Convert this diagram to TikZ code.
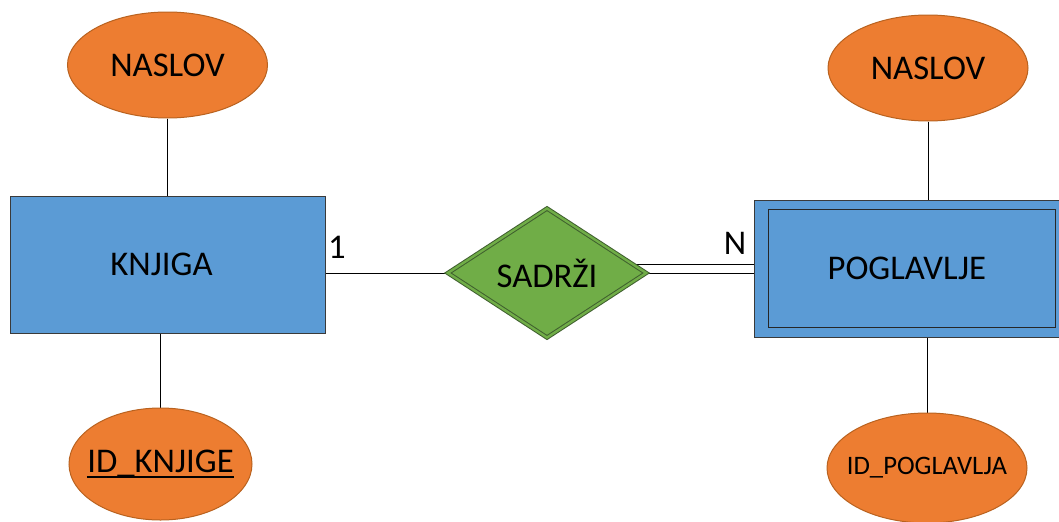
\documentclass[tikz,border=0pt]{standalone}
\usepackage{fontspec}
\setmainfont{Carlito}
\usepackage{tikz}
\usetikzlibrary{shapes.geometric}
\usetikzlibrary{backgrounds}
\definecolor{entblue}{HTML}{5B9BD5}
\definecolor{attrorange}{HTML}{ED7D31}
\definecolor{attrline}{HTML}{B9621F}
\definecolor{relgreen}{HTML}{70AD47}
\definecolor{relline}{HTML}{3F5F2E}
\definecolor{boxline}{HTML}{3A3A3A}

\begin{document}
\begin{tikzpicture}[x=0.75pt, y=-0.75pt, line width=0.75pt,
    txt/.style={font=\fontsize{26}{30}\selectfont},
    attr/.style={ellipse, draw=attrline, fill=attrorange, inner sep=0pt},
    entity/.style={rectangle, draw=boxline, fill=entblue, inner sep=0pt, txt},
    rel/.style={diamond, draw=relline, double=relgreen, double distance=1.8pt, fill=relgreen, inner sep=0pt, txt}]
\path[use as bounding box] (0,0) rectangle (1059,521);
\clip (0,0) rectangle (1059,521);

% entiteti
\node[entity, minimum width=236.25pt, minimum height=102.75pt] (knjiga) at (167.5,264.5) {KNJIGA\hspace*{9pt}};
\node[entity, minimum width=236.25pt, minimum height=102.75pt] (pog) at (911.5,268.5) {};
\node[rectangle, draw=black!85, inner sep=0pt, minimum width=215.25pt, minimum height=88.5pt, txt] (pog-in) at (911.5,268) {POGLAVLJE\hspace*{7pt}};

% veza
\node[rel, minimum width=149pt, minimum height=91.5pt] (dia) at (547,273) {SADRŽI};

% atributi
\node[attr, minimum width=150pt, minimum height=79.5pt, label={[txt]center:NASLOV}] (nasl1) at (167.5,65) {};
\node[attr, minimum width=137.25pt, minimum height=84pt, label={[txt, inner sep=0pt, name=idk-t]center:ID\_KNJIGE}] (idk) at (160.5,464) {};
\node[attr, minimum width=150pt, minimum height=79.5pt, label={[txt]center:NASLOV}] (nasl2) at (928,68) {};
\node[attr, minimum width=150pt, minimum height=82.5pt, label={[font=\fontsize{20}{24}\selectfont]center:ID\_POGLAVLJA}] (idp) at (927,468) {};
\draw[line width=1.6pt] ([yshift=-3.2pt]idk-t.base west) -- ([yshift=-3.2pt]idk-t.base east);

% kardinalnosti
\node[anchor=center, txt] (lab1) at (337,247) {1};
\node[anchor=center, txt] (labN) at (735,243) {N};

\begin{pgfonlayer}{background}
\draw (nasl1) -- (knjiga);
\draw (idk.north) -- (idk.north |- knjiga.south);
\draw (nasl2.south) -- (nasl2.south |- pog.north);
\draw (idp.north) -- (idp.north |- pog.south);
\draw (dia.west) -- (dia.west -| knjiga.east);
\draw ([yshift=3.4pt]pog.west -| dia) -- ([yshift=3.4pt]pog.west);
\draw ([yshift=-3.4pt]pog.west -| dia) -- ([yshift=-3.4pt]pog.west);
\end{pgfonlayer}
\end{tikzpicture}
\end{document}
